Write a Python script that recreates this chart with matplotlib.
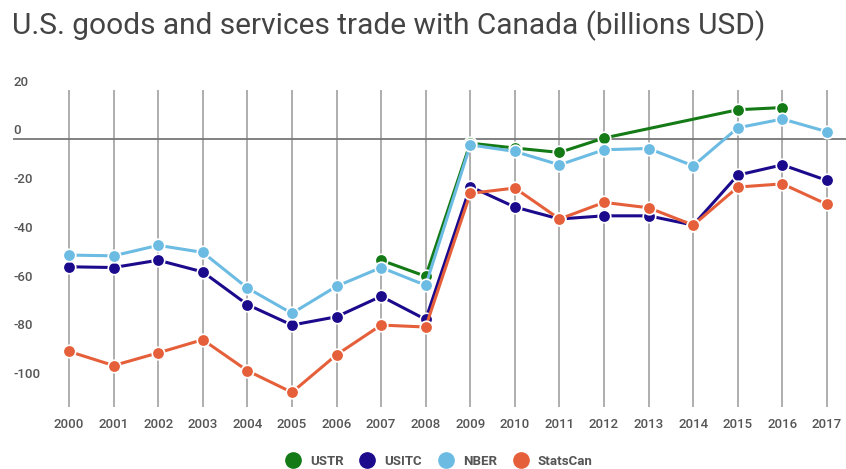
import numpy as np
import matplotlib
matplotlib.use("Agg")
import matplotlib.pyplot as plt
from matplotlib.lines import Line2D
from matplotlib import transforms

years = list(range(2000, 2018))

# None = no value for that year
ustr = [None, None, None, None, None, None, None, -49.8, -56.4, -1.8, -3.8, -5.6, 0.3,
        None, None, 11.9, 12.8, None]
usitc = [-52.5, -52.8, -49.8, -54.6, -68.0, -76.4, -73.0, -64.6, -74.1, -19.6, -28.0,
         -32.9, -31.6, -31.6, -35.4, -14.9, -10.7, -17.1]
nber = [-47.7, -48.0, -43.7, -46.6, -61.2, -71.6, -60.5, -52.8, -60.1, -2.5, -5.2,
        -10.7, -4.5, -4.0, -11.1, 4.5, 8.1, 2.9]
statscan = [-87.2, -93.0, -87.8, -82.4, -95.1, -104.0, -88.6, -76.4, -77.2, -22.4,
            -20.2, -32.9, -26.1, -28.3, -35.4, -19.8, -18.5, -26.9]

names = ["USTR", "USITC", "NBER", "StatsCan"]
colors = ["#137a16", "#1b0b8c", "#6cbbe3", "#e5603a"]
yticks = [20, 0, -20, -40, -60, -80, -100]

plt.rcParams['font.family'] = ['Roboto', 'DejaVu Sans']

fig = plt.figure(figsize=(8.46, 4.69), dpi=100)
ax = fig.add_axes([13 / 846, (469 - 407) / 469, 1 - 13 / 846, (407 - 90) / 469])

for y in years:
    ax.axvline(y, color="#a8a8a8", lw=1.3, zorder=0)
ax.axhline(0, color="#777777", lw=1.3, zorder=1)

for vals, c in zip([ustr, usitc, nber, statscan], colors):
    xs = [x for x, v in zip(years, vals) if v is not None]
    vs = [v for v in vals if v is not None]
    ax.plot(xs, vs, color=c, lw=2.2, marker="o", ms=9, mfc=c, mec="white",
            mew=1.2, zorder=3)

ax.set_xlim(2000 - 56 / 44.6, 2017 + 19 / 44.6)
ax.set_ylim(-110, 20)
ax.set_yticks([])
ax.set_xticks(years)
ax.set_xticklabels([str(y) for y in years], fontsize=9.5, color="#555555",
                   fontweight="medium")
ax.tick_params(axis="x", length=0, pad=8)
for s in ax.spines.values():
    s.set_visible(False)

# y labels sit just above their value, inside the plot area
trans = transforms.blended_transform_factory(ax.transAxes, ax.transData)
off = transforms.ScaledTranslation(0, 8 / 100, fig.dpi_scale_trans)
for t in yticks:
    ax.text(0, t, str(t), transform=trans + off, ha="left", va="center",
            fontsize=9.5, color="#555555", fontweight="medium")

fig.text(12 / 846, 1 - 26 / 469, "U.S. goods and services trade with Canada (billions USD)",
         fontsize=21.5, color="#444444", ha="left", va="center")

handles = [Line2D([], [], ls="none", marker="o", ms=11, color=c) for c in colors]
fig.legend(handles, names, loc="center", bbox_to_anchor=(436 / 846, 1 - 461 / 469),
           ncol=4, frameon=False, handletextpad=0.3, columnspacing=0.8,
           prop={"size": 9.5, "weight": "bold"}, labelcolor="#555555")

fig.savefig("out.png", dpi=100)
